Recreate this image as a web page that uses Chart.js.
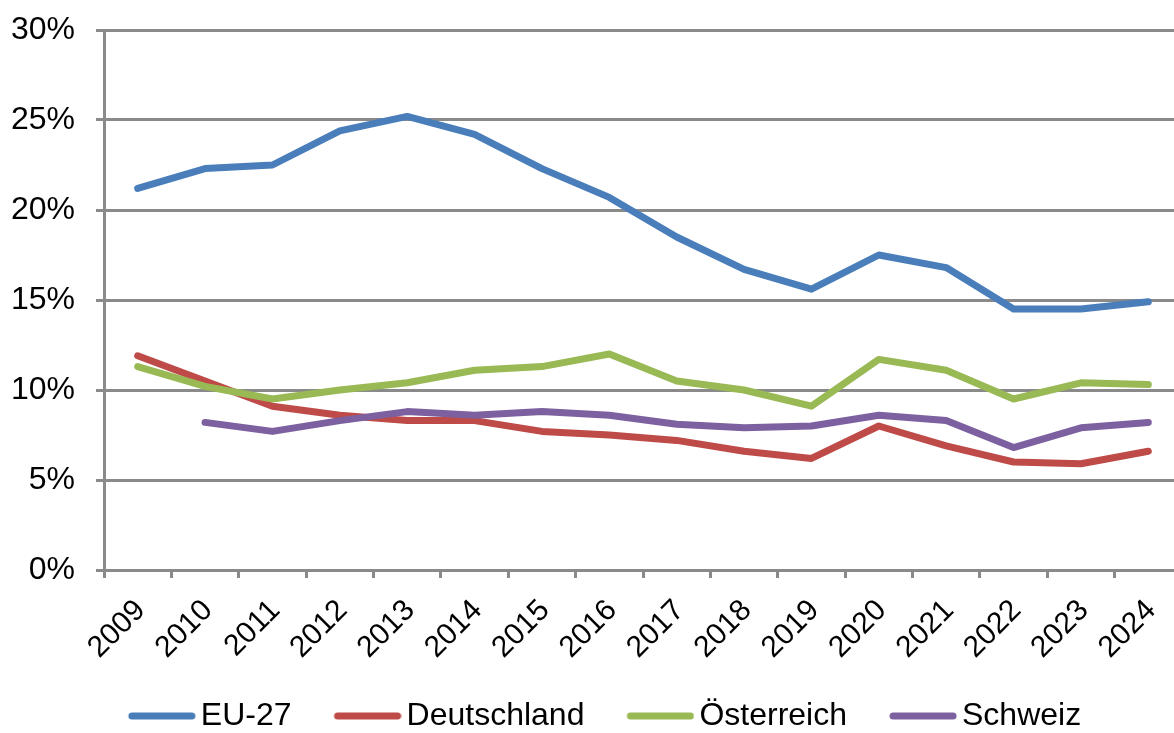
<!DOCTYPE html>
<html>
<head>
<meta charset="utf-8">
<script src="https://cdn.jsdelivr.net/npm/chart.js@4"></script>
<style>
  html, body { margin: 0; padding: 0; overflow: hidden; background: #fff; }
  #grafico { display: block; }
</style>
</head>
<body>
<canvas id="grafico" width="1200" height="733"></canvas>
<script>
const jahre = ['2009', '2010', '2011', '2012', '2013', '2014', '2015', '2016',
               '2017', '2018', '2019', '2020', '2021', '2022', '2023', '2024'];

const eu27 =        [21.2, 22.3, 22.5, 24.4, 25.2, 24.2, 22.3, 20.7, 18.5, 16.7, 15.6, 17.5, 16.8, 14.5, 14.5, 14.9];
const deutschland = [11.9, 10.5, 9.1, 8.6, 8.3, 8.3, 7.7, 7.5, 7.2, 6.6, 6.2, 8.0, 6.9, 6.0, 5.9, 6.6];
const oesterreich = [11.3, 10.2, 9.5, 10.0, 10.4, 11.1, 11.3, 12.0, 10.5, 10.0, 9.1, 11.7, 11.1, 9.5, 10.4, 10.3];
const schweiz =     [null, 8.2, 7.7, 8.3, 8.8, 8.6, 8.8, 8.6, 8.1, 7.9, 8.0, 8.6, 8.3, 6.8, 7.9, 8.2];

const gitter = '#8a8a8a';
const familie = "'Liberation Sans', Arial, sans-serif";

// Legendensymbol: kurze Linie rechts in einem breiteren, transparenten Bild
const legendenLinie = (farbe) => {
    const c = document.createElement('canvas');
    c.width = 106;
    c.height = 12;
    const ctx = c.getContext('2d');
    ctx.strokeStyle = farbe;
    ctx.lineWidth = 7;
    ctx.lineCap = 'round';
    ctx.beginPath();
    ctx.moveTo(42, 6);
    ctx.lineTo(102, 6);
    ctx.stroke();
    return c;
};

const linie = (label, data, farbe, order) => ({
    label: label,
    data: data,
    borderColor: farbe,
    backgroundColor: farbe,
    borderWidth: 7,
    borderCapStyle: 'round',
    borderJoinStyle: 'round',
    pointRadius: 0,
    pointStyle: legendenLinie(farbe),
    tension: 0,
    order: order
});

new Chart(document.querySelector('#grafico'), {
    type: 'line',
    data: {
        labels: jahre,
        datasets: [
            linie('EU-27', eu27, '#4A7EBB', 3),
            linie('Deutschland', deutschland, '#BE4B48', 2),
            linie('Österreich', oesterreich, '#98B954', 1),
            linie('Schweiz', schweiz, '#7D60A0', 0)
        ]
    },
    options: {
        responsive: false,
        animation: false,
        layout: { padding: { left: 0, right: 18, top: 30, bottom: 0 } },
        plugins: {
            tooltip: { enabled: false },
            legend: {
                position: 'bottom',
                maxHeight: 48,
                labels: {
                    usePointStyle: true,
                    pointStyleWidth: 84,
                    padding: 15,
                    color: '#000',
                    font: { family: familie, size: 32 },
                    sort: (a, b) => a.datasetIndex - b.datasetIndex
                }
            }
        },
        scales: {
            x: {
                offset: true,
                afterFit: (scale) => { scale.height = 115; },
                grid: {
                    offset: true,
                    drawOnChartArea: false,
                    drawTicks: true,
                    tickLength: 8,
                    color: gitter,
                    lineWidth: 3
                },
                border: { color: gitter, width: 3 },
                ticks: {
                    autoSkip: false,
                    minRotation: 45,
                    maxRotation: 45,
                    labelOffset: 3,
                    padding: 15,
                    color: '#000',
                    font: { family: familie, size: 30 }
                }
            },
            y: {
                min: 0,
                max: 30,
                afterFit: (scale) => {
                    scale.width = 104;
                    scale.paddingTop = 0;
                    scale.paddingBottom = 0;
                },
                grid: {
                    color: gitter,
                    lineWidth: 3,
                    tickLength: 8
                },
                border: { color: gitter, width: 3 },
                ticks: {
                    stepSize: 5,
                    padding: 21,
                    color: '#000',
                    font: { family: familie, size: 32 },
                    callback: (v) => v + '%'
                }
            }
        }
    }
});
</script>
</body>
</html>
